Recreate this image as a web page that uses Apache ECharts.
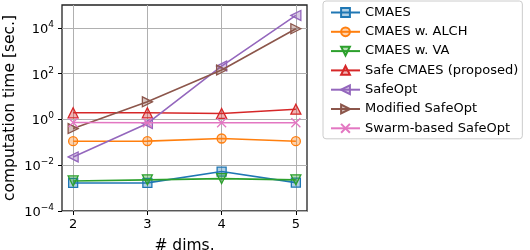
<!DOCTYPE html>
<html><head><meta charset="utf-8">
<script src="https://cdn.jsdelivr.net/npm/echarts@6/dist/echarts.min.js"></script>
<style>html,body{margin:0;padding:0;background:#fff}#c{width:530px;height:250px}</style>
</head><body><div id="c"></div>
<script>
const dims = [2, 3, 4, 5];
const xTicks = [2, 3, 4, 5];
const yTicks = [1e-4, 1e-2, 1, 1e2, 1e4];
const seriesNames = ['CMAES', 'CMAES w. ALCH', 'CMAES w. VA', 'Safe CMAES (proposed)', 'SafeOpt', 'Modified SafeOpt', 'Swarm-based SafeOpt'];
const cmaes = [1.68e-3, 1.7e-3, 5.3e-3, 1.74e-3];
const cmaesAlch = [0.112, 0.113, 0.147, 0.112];
const cmaesVa = [2.06e-3, 2.3e-3, 2.6e-3, 2.3e-3];
const safeCmaes = [1.95, 1.95, 1.83, 2.8];
const safeOpt = [0.023, 0.67, 215, 35000];
const modSafeOpt = [0.4, 5.9, 144, 9200];
const swarmSafeOpt = [0.73, 0.72, 0.72, 0.72];

const values = [cmaes, cmaesAlch, cmaesVa, safeCmaes, safeOpt, modSafeOpt, swarmSafeOpt];
const colors = ['#1f77b4', '#ff7f0e', '#2ca02c', '#d62728', '#9467bd', '#8c564b', '#e377c2'];
const symbols = ['rect', 'circle', 'triangle', 'triangle', 'triangle', 'triangle', 'path://M0,0L10,10M10,0L0,10'];
const rotates = [0, 0, 180, 0, 90, -90, 0];
const sizes = [9, 9, 10, 10, 10, 10, 9];
function alpha(hex, a) {
  const n = parseInt(hex.slice(1), 16);
  return 'rgba(' + (n >> 16) + ',' + ((n >> 8) & 255) + ',' + (n & 255) + ',' + a + ')';
}
const FONT = 'DejaVu Sans';
const series = seriesNames.map((name, i) => ({
  name, type: 'line',
  data: dims.map((d, j) => [d, values[i][j]]),
  symbol: symbols[i], symbolRotate: rotates[i], symbolSize: sizes[i],
  showSymbol: true,
  lineStyle: { color: colors[i], width: 1.6 },
  itemStyle: { color: i === 6 ? 'rgba(0,0,0,0)' : alpha(colors[i], 0.35), borderColor: colors[i], borderWidth: 1.3 },
  emphasis: { disabled: true },
  z: 2 + i
}));
const chart = echarts.init(document.getElementById('c'), null, { renderer: 'canvas' });
chart.setOption({
  animation: false,
  textStyle: { fontFamily: FONT },
  grid: { left: 62, right: 223, top: 5, bottom: 39, show: true, borderColor: '#222', borderWidth: 1.3, backgroundColor: 'transparent', containLabel: false, outerBoundsMode: 'none' },
  xAxis: {
    type: 'value', min: 1.85, max: 5.15,
    name: '# dims.', nameLocation: 'middle', nameGap: 27,
    nameTextStyle: { fontFamily: FONT, fontSize: 15.5, color: '#000' },
    axisLine: { show: false },
    axisTick: { show: true, length: 4, lineStyle: { color: '#000', width: 1 }, customValues: xTicks },
    axisLabel: { customValues: xTicks, fontFamily: FONT, fontSize: 13, color: '#000', margin: 7 },
    splitLine: { show: true, lineStyle: { color: '#b0b0b0', width: 1 } }
  },
  yAxis: {
    type: 'log', logBase: 10, min: 1e-4, max: 1e5,
    name: 'computation time [sec.]', nameLocation: 'middle', nameGap: 44, nameRotate: 90,
    nameTextStyle: { fontFamily: FONT, fontSize: 15.5, color: '#000' },
    axisLine: { show: false },
    axisTick: { show: true, length: 4, lineStyle: { color: '#000', width: 1 }, customValues: yTicks },
    axisLabel: {
      customValues: yTicks, fontFamily: FONT, fontSize: 13, color: '#000', margin: 8,
      formatter: v => { const e = Math.round(Math.log10(v)); return '{b|10}{s|' + (e < 0 ? '\u2212' + (-e) : e) + '}'; },
      rich: {
        b: { fontFamily: FONT, fontSize: 13, color: '#000', lineHeight: 16, verticalAlign: 'bottom' },
        s: { fontFamily: FONT, fontSize: 9, color: '#000', lineHeight: 16, verticalAlign: 'top' }
      }
    },
    splitLine: { show: true, lineStyle: { color: '#b0b0b0', width: 1 } }
  },
  legend: {
    orient: 'vertical', left: 323, top: 1,
    padding: [5, 4, 4, 7], itemGap: 6.3, itemWidth: 29, itemHeight: 11,
    backgroundColor: '#fff', borderColor: '#cccccc', borderWidth: 1, borderRadius: 3,
    textStyle: { fontFamily: FONT, fontSize: 13, color: '#000', lineHeight: 13 },
    data: seriesNames
  },
  series
});
</script></body></html>
